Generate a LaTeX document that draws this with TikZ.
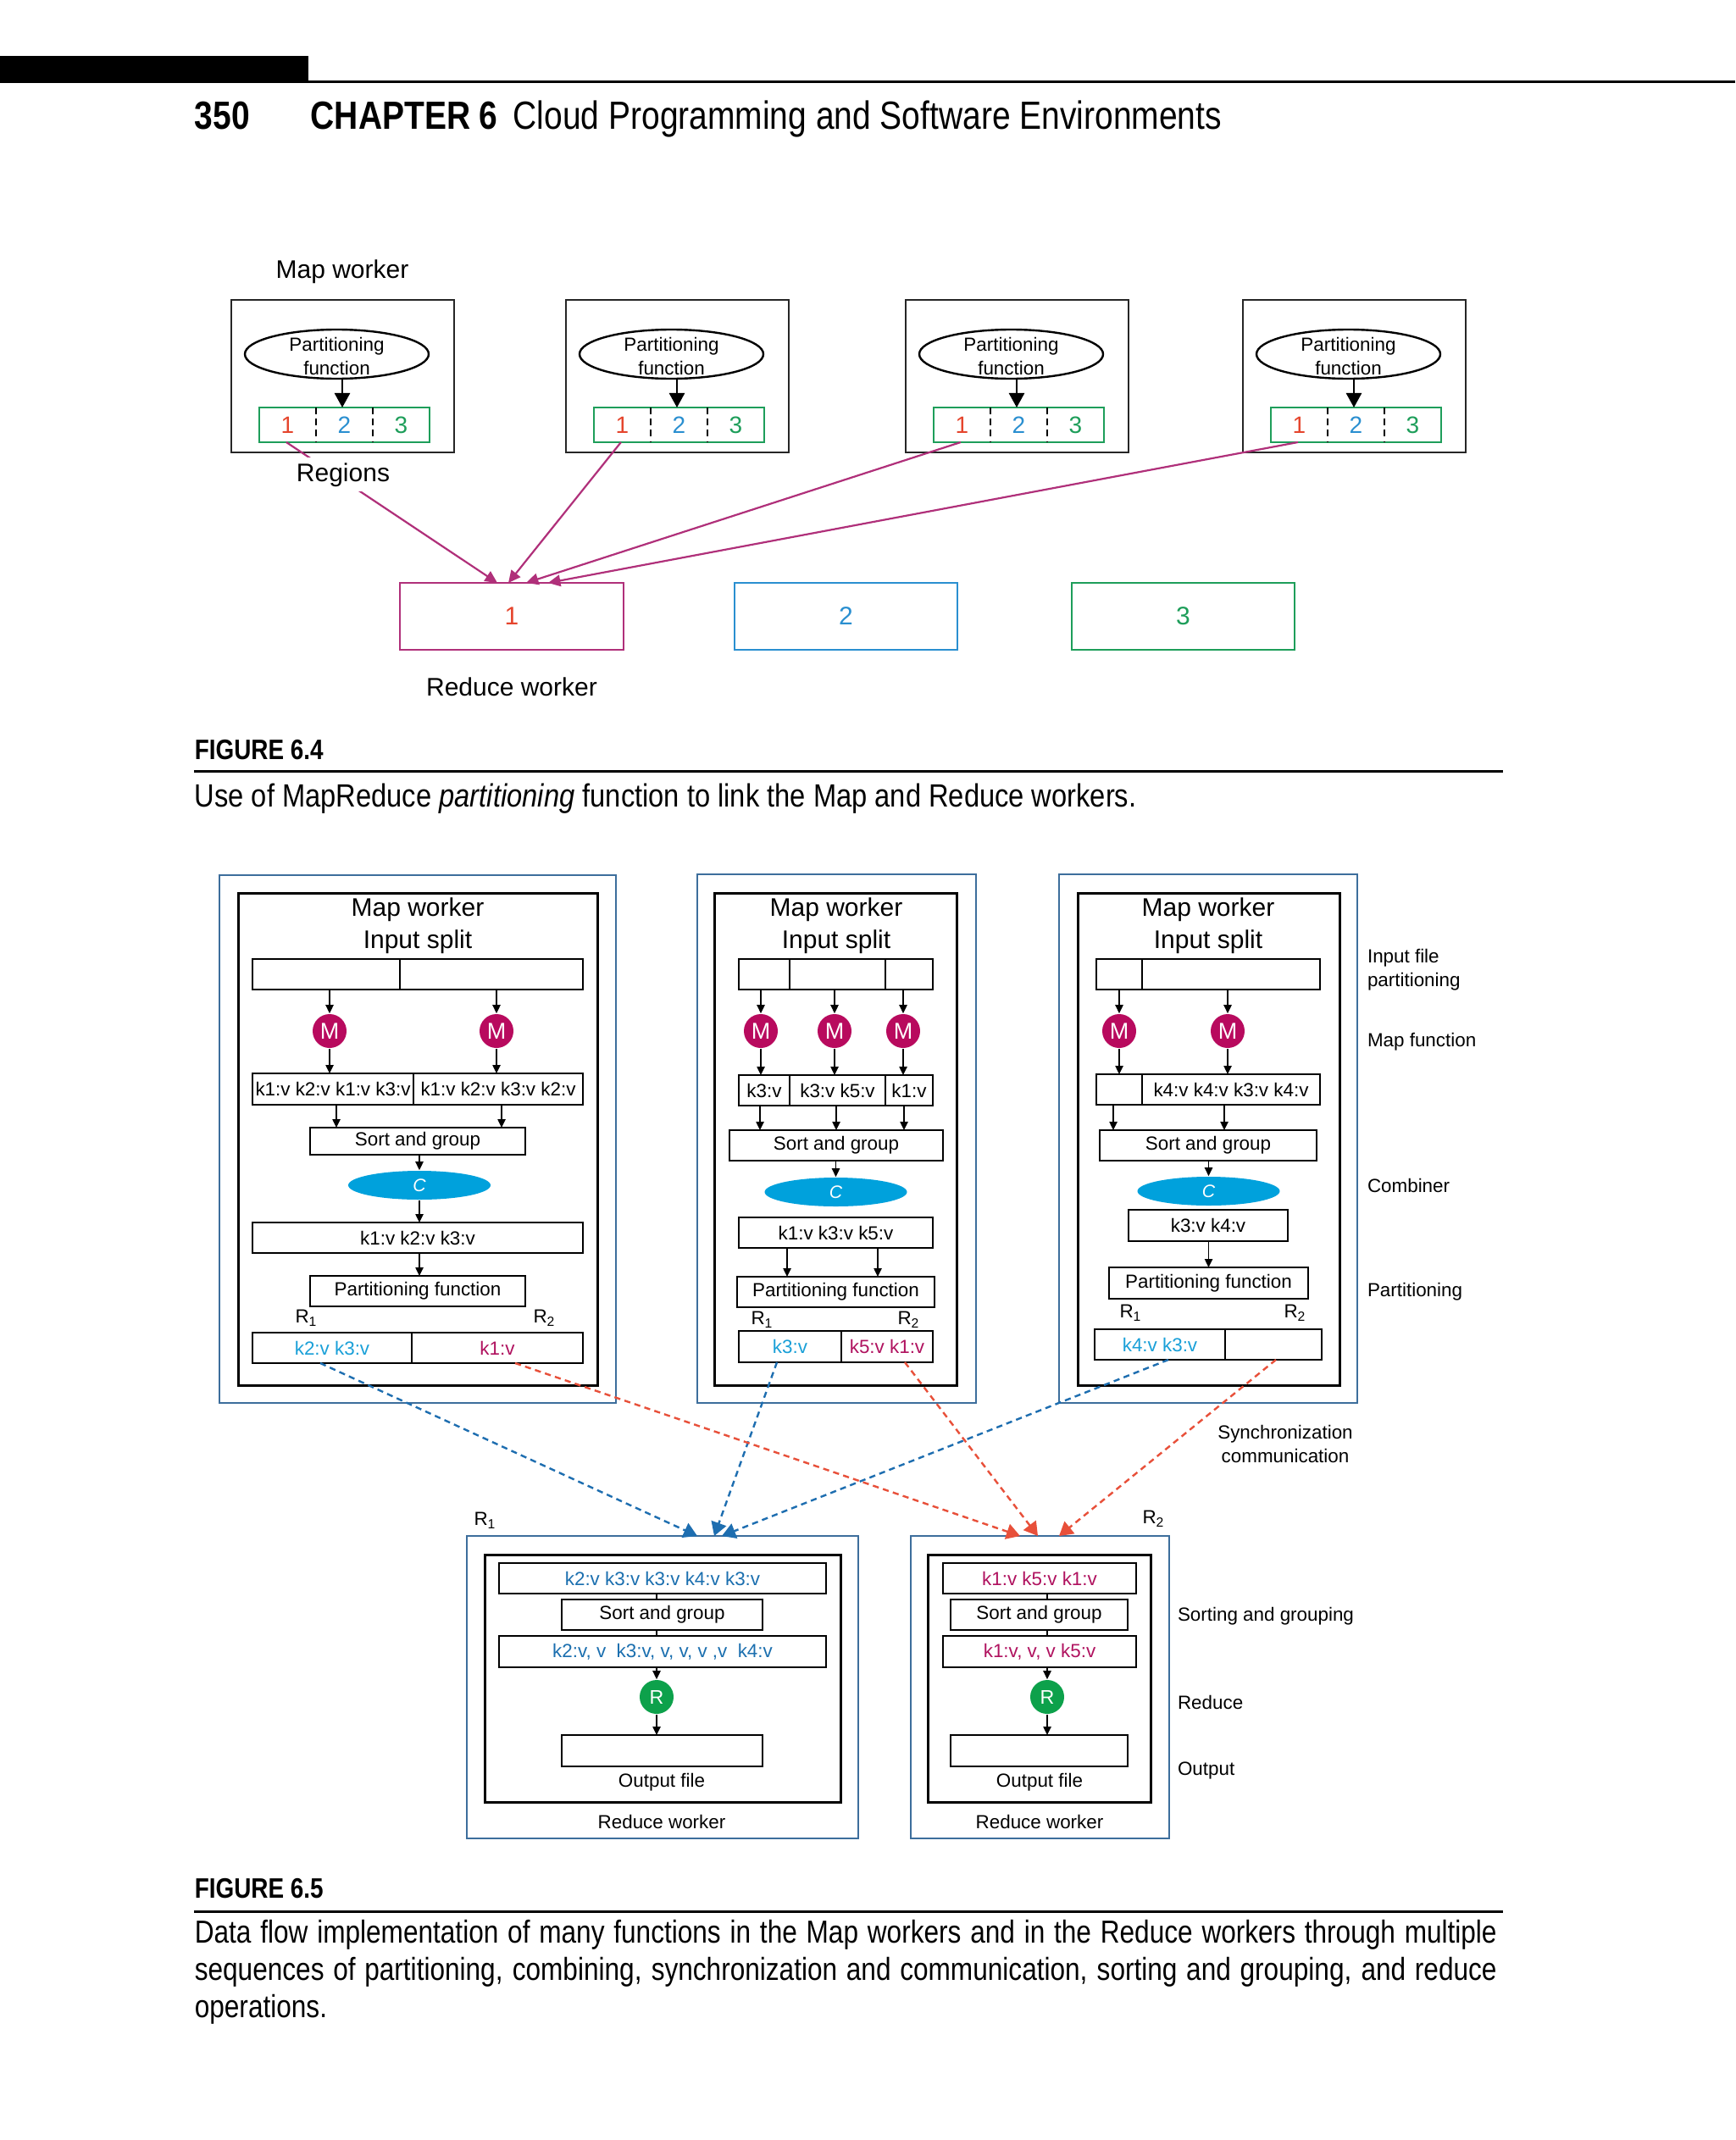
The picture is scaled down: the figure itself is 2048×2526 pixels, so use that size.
\documentclass[tikz,border=0pt]{standalone}
\usepackage{fontspec}
\setmainfont{Liberation Sans}
\newfontfamily\cond[FakeStretch=0.84]{Liberation Sans}
\newfontfamily\condw[FakeStretch=0.86]{Liberation Sans}
\usetikzlibrary{arrows.meta,shapes.geometric}
\definecolor{mag}{HTML}{B0307A}
\definecolor{red1}{HTML}{E5452D}
\definecolor{blu1}{HTML}{2A8FD0}
\definecolor{grn1}{HTML}{1E9E5A}
\definecolor{steel}{HTML}{3D6E9C}
\definecolor{mcirc}{HTML}{B80A5E}
\definecolor{ccyan}{HTML}{00A1DC}
\definecolor{rgreen}{HTML}{0DA14B}
\definecolor{cytext}{HTML}{1AA0D8}
\definecolor{mgtext}{HTML}{B0125F}
\definecolor{dkblue}{HTML}{1B6FAF}
\definecolor{dblue}{HTML}{1E6EB0}
\definecolor{dred}{HTML}{E8503A}
\newcommand\fsmall{\fontsize{5.6pt}{7pt}\selectfont}
\newcommand\fmed{\fontsize{7.5pt}{9.5pt}\selectfont}
\newcommand\capfont{\cond\fontsize{9.4pt}{11pt}\selectfont}
\newcommand\Rect[7]{\node[#6,minimum width={((#4)-(#2))*0.25pt},minimum height={((#5)-(#3))*0.25pt}] (#1) at ({((#2)+(#4))/2},{((#3)+(#5))/2}) {#7};}
\tikzset{
  mapbox/.style={draw=black!85, line width=0.7pt, inner sep=0pt, outer sep=0pt},
  pell/.style={ellipse, draw, line width=0.6pt, minimum width=54.25pt, minimum height=14.5pt, inner sep=0pt},
  dig/.style={inner sep=0pt, outer sep=0pt, font=\fontsize{7pt}{7pt}\selectfont},
  regbar/.style={draw=grn1, line width=0.6pt, inner sep=0pt, outer sep=0pt},
  ddiv/.style={line width=0.5pt, dash pattern=on 2pt off 1.3pt},
  bigarr/.style={line width=0.5pt, -{Triangle[length=4.3pt,width=4.6pt]}},
  magarr/.style={draw=mag, line width=0.55pt, -{Triangle[length=3.6pt,width=3.4pt]}},
  redbox/.style={line width=0.65pt, inner sep=0pt, outer sep=0pt, font=\fontsize{7.5pt}{7.5pt}\selectfont},
  bx/.style={draw, line width=0.6pt, inner sep=0pt, outer sep=0pt, font=\fsmall},
  cell/.style={inner sep=0pt, outer sep=0pt, font=\fsmall},
  ttl/.style={inner sep=0pt, align=center, font=\fmed},
  outerb/.style={draw=steel, line width=0.6pt, inner sep=0pt, outer sep=0pt},
  innerb/.style={draw, line width=0.75pt, inner sep=0pt, outer sep=0pt},
  arr/.style={line width=0.45pt, -{Triangle[length=2.5pt,width=2.3pt]}},
  lnk/.style={line width=0.45pt},
  mnode/.style={circle, fill=mcirc, minimum size=10pt, inner sep=0pt, text=white, font=\fontsize{6.75pt}{6.75pt}\selectfont},
  cnode/.style={ellipse, fill=ccyan, minimum width=42pt, minimum height=8.5pt, inner sep=0pt, text=white, font=\fontsize{5.3pt}{5.3pt}\selectfont\itshape},
  rnode/.style={circle, fill=rgreen, minimum size=10pt, inner sep=0pt, text=white, font=\fontsize{5.8pt}{5.8pt}\selectfont},
  bdash/.style={draw=dblue, line width=0.6pt, dash pattern=on 1.8pt off 1.3pt, -{Triangle[length=4pt,width=4.6pt]}},
  rdash/.style={draw=dred, line width=0.6pt, dash pattern=on 1.8pt off 1.3pt, -{Triangle[length=4pt,width=4.6pt]}},
}
\begin{document}
\begin{tikzpicture}[x=0.25pt,y=-0.25pt]
\fill[white] (0,0) rectangle (2048,2526);
\useasboundingbox (0,0) rectangle (2048,2526);
% ---------- page header
\fill (0,66) rectangle (364,98);
\draw[line width=0.7pt] (364,96.5) -- (2048,96.5);
\node[anchor=base west, inner sep=0pt, font=\cond\bfseries\fontsize{11.6pt}{11.6pt}\selectfont] (pg) at (229,153) {350};
\node[anchor=base west, inner sep=0pt, font=\cond\bfseries\fontsize{11.6pt}{11.6pt}\selectfont] (chap) at (366,153) {CHAPTER 6};
\node[anchor=base west, inner sep=0pt, font=\cond\fontsize{11.6pt}{11.6pt}\selectfont] (ctitle) at (605,153) {Cloud Programming and Software Environments};
% ---------- Figure 6.4
\node[anchor=base, inner sep=0pt, font=\fmed] (mwlab) at (404,328) {Map worker};
\foreach \L [count=\i] in {273,668,1069,1467} {
  \Rect{mw\i}{\L}{354}{\L+263}{534}{mapbox}{}
  \node[pell] (pe\i) at (\L+124.5,418) {};
  \node[cell,align=center] (pt\i) at (\L+124.5,420) {Partitioning\\function};
  \Rect{ca\i}{\L+33}{481}{\L+100}{522}{dig}{\color{red1}1}
  \Rect{cb\i}{\L+100}{481}{\L+167}{522}{dig}{\color{blu1}2}
  \Rect{cc\i}{\L+167}{481}{\L+234}{522}{dig}{\color{grn1}3}
  \Rect{rb\i}{\L+33}{481}{\L+234}{522}{regbar}{}
  \draw[ddiv] (ca\i.north east) -- (ca\i.south east);
  \draw[ddiv] (cb\i.north east) -- (cb\i.south east);
  \draw[bigarr] (\L+131,0 |- pe\i.south) -- (\L+131,0 |- rb\i.north);
}
\Rect{rw1}{472}{688}{736}{767}{redbox,draw=mag}{\color{red1}1}
\Rect{rw2}{867}{688}{1130}{767}{redbox,draw=blu1}{\color{blu1}2}
\Rect{rw3}{1265}{688}{1528}{767}{redbox,draw=grn1}{\color{grn1}3}
\foreach \i/\t in {1/587,2/600,3/621,4/647}
  \draw[magarr] ([xshift=-0.4pt]ca\i.south) -- (\t,0 |- rw1.north);
\node[anchor=base, fill=white, inner sep=1.5pt, font=\fmed] (regl) at (405,568) {Regions};
\node[anchor=base, inner sep=0pt, font=\fmed] (rwlab) at (604,821) {Reduce worker};
% caption 6.4
\node[anchor=base west, inner sep=0pt, font=\cond\bfseries\fontsize{8.3pt}{8.3pt}\selectfont] (f4) at (229,896) {FIGURE 6.4};
\draw[line width=0.75pt] (229,910) -- (1774,910);
\node[anchor=base west, inner sep=0pt, font=\condw\fontsize{9.5pt}{11pt}\selectfont] (c4) at (229,952) {Use of MapReduce \textit{partitioning} function to link the Map and Reduce workers.};
% ---------- Figure 6.5 : Map worker A
\Rect{oA}{259}{1033}{727}{1656}{outerb}{}
\Rect{iA}{281}{1054}{705}{1635}{innerb}{}
\node[ttl] (tA) at (493,1093) {Map worker\\Input split};
\Rect{inA1}{298}{1132}{472}{1168}{bx}{}
\Rect{inA2}{472}{1132}{688}{1168}{bx}{}
\node[mnode] (mA1) at (389,1217) {M};
\node[mnode] (mA2) at (586,1217) {M};
\Rect{kvA1}{298}{1267}{488}{1304}{bx}{k1:v k2:v k1:v k3:v}
\Rect{kvA2}{488}{1267}{688}{1304}{bx}{k1:v k2:v k3:v k2:v}
\Rect{sgA}{366}{1331}{620}{1363}{bx}{Sort and group}
\node[cnode] (cA) at (495,1399) {C};
\Rect{k3A}{298}{1443}{688}{1479}{bx}{k1:v k2:v k3:v}
\Rect{pfA}{366}{1506}{620}{1542}{bx}{Partitioning function}
\node[cell] (r1A) at (362,1556) {R\textsubscript{1}};
\node[cell] (r2A) at (643,1556) {R\textsubscript{2}};
\Rect{rA1}{298}{1573}{486}{1609}{bx,text=cytext}{k2:v k3:v}
\Rect{rA2}{486}{1573}{688}{1609}{bx,text=mgtext}{k1:v}
\draw[arr] (mA1 |- inA1.south) -- (mA1.north);
\draw[arr] (mA1.south) -- (mA1 |- kvA1.north);
\draw[arr] (mA2 |- inA2.south) -- (mA2.north);
\draw[arr] (mA2.south) -- (mA2 |- kvA2.north);
\draw[arr] (397,0 |- kvA1.south) -- (397,0 |- sgA.north);
\draw[arr] (592,0 |- kvA2.south) -- (592,0 |- sgA.north);
\draw[arr] (cA |- sgA.south) -- (cA.north);
\draw[arr] (cA.south) -- (cA |- k3A.north);
\draw[arr] (cA |- k3A.south) -- (cA |- pfA.north);
% Map worker B
\Rect{oB}{823}{1032}{1152}{1656}{outerb}{}
\Rect{iB}{843}{1054}{1129}{1635}{innerb}{}
\node[ttl] (tB) at (987,1093) {Map worker\\Input split};
\Rect{inB1}{872}{1132}{932}{1168}{bx}{}
\Rect{inB2}{932}{1132}{1045}{1168}{bx}{}
\Rect{inB3}{1045}{1132}{1101}{1168}{bx}{}
\node[mnode] (mB1) at (898,1217) {M};
\node[mnode] (mB2) at (985,1217) {M};
\node[mnode] (mB3) at (1066,1217) {M};
\Rect{kvB1}{872}{1269}{932}{1305}{bx}{k3:v}
\Rect{kvB2}{932}{1269}{1045}{1305}{bx}{k3:v k5:v}
\Rect{kvB3}{1045}{1269}{1101}{1305}{bx}{k1:v}
\Rect{sgB}{861}{1334}{1113}{1370}{bx}{Sort and group}
\node[cnode] (cB) at (986.5,1407) {C};
\Rect{k3B}{872}{1437}{1101}{1473}{bx}{k1:v k3:v k5:v}
\Rect{pfB}{870}{1507}{1103}{1543}{bx}{Partitioning function}
\node[cell] (r1B) at (900,1558) {R\textsubscript{1}};
\node[cell] (r2B) at (1073,1558) {R\textsubscript{2}};
\Rect{rB1}{872}{1571}{993}{1608}{bx,text=cytext}{k3:v}
\Rect{rB2}{993}{1571}{1101}{1608}{bx,text=mgtext}{k5:v k1:v}
\draw[arr] (mB1 |- inB1.south) -- (mB1.north);
\draw[arr] (mB1.south) -- (mB1 |- kvB1.north);
\draw[arr] (mB2 |- inB2.south) -- (mB2.north);
\draw[arr] (mB2.south) -- (mB2 |- kvB2.north);
\draw[arr] (mB3 |- inB3.south) -- (mB3.north);
\draw[arr] (mB3.south) -- (mB3 |- kvB3.north);
\draw[arr] (897,0 |- kvB1.south) -- (897,0 |- sgB.north);
\draw[arr] (987,0 |- kvB2.south) -- (987,0 |- sgB.north);
\draw[arr] (1067,0 |- kvB3.south) -- (1067,0 |- sgB.north);
\draw[arr] (cB |- sgB.south) -- (cB.north);
\draw[arr] (929,0 |- k3B.south) -- (929,0 |- pfB.north);
\draw[arr] (1036,0 |- k3B.south) -- (1036,0 |- pfB.north);
% Map worker C
\Rect{oC}{1250}{1032}{1602}{1656}{outerb}{}
\Rect{iC}{1272}{1054}{1581}{1635}{innerb}{}
\node[ttl] (tC) at (1426,1093) {Map worker\\Input split};
\Rect{inC1}{1294}{1132}{1348}{1168}{bx}{}
\Rect{inC2}{1348}{1132}{1558}{1168}{bx}{}
\node[mnode] (mC1) at (1321,1217) {M};
\node[mnode] (mC2) at (1449,1217) {M};
\Rect{kvC1}{1294}{1268}{1348}{1304}{bx}{}
\Rect{kvC2}{1348}{1268}{1558}{1304}{bx}{k4:v k4:v k3:v k4:v}
\Rect{sgC}{1298}{1334}{1554}{1370}{bx}{Sort and group}
\node[cnode] (cC) at (1426.5,1406) {C};
\Rect{k3C}{1332}{1428}{1520}{1465}{bx}{k3:v k4:v}
\Rect{pfC}{1309}{1496}{1544}{1533}{bx}{Partitioning function}
\node[cell] (r1C) at (1335,1550) {R\textsubscript{1}};
\node[cell] (r2C) at (1529,1550) {R\textsubscript{2}};
\Rect{rC1}{1292}{1569}{1446}{1605}{bx,text=cytext}{k4:v k3:v}
\Rect{rC2}{1446}{1569}{1560}{1605}{bx}{}
\draw[arr] (mC1 |- inC1.south) -- (mC1.north);
\draw[arr] (mC1.south) -- (mC1 |- kvC1.north);
\draw[arr] (mC2 |- inC2.south) -- (mC2.north);
\draw[arr] (mC2.south) -- (mC2 |- kvC2.north);
\draw[arr] (1314,0 |- kvC1.south) -- (1314,0 |- sgC.north);
\draw[arr] (1445,0 |- kvC2.south) -- (1445,0 |- sgC.north);
\draw[arr] (cC |- sgC.south) -- (cC.north);
\draw[arr] (cC |- k3C.south) -- (cC |- pfC.north);
% side labels
\node[cell, anchor=west, align=left] (lb1) at (1614,1145) {Input file\\partitioning};
\node[cell, anchor=west] (lb2) at (1614,1230) {Map function};
\node[cell, anchor=west] (lb3) at (1614,1399) {Combiner};
\node[cell, anchor=west] (lb4) at (1614,1525) {Partitioning};
\node[cell, align=center] (lb5) at (1517,1704) {Synchronization\\communication};
% Reduce worker A
\Rect{oRA}{551}{1813}{1013}{2170}{outerb}{}
\Rect{iRA}{572}{1835}{992}{2127}{innerb}{}
\Rect{aRA}{589}{1845}{975}{1881}{bx,text=dkblue}{k2:v k3:v k3:v k4:v k3:v}
\Rect{sRA}{663}{1888}{900}{1924}{bx}{Sort and group}
\Rect{bRA}{589}{1931}{975}{1968}{bx,text=dkblue}{k2:v, v\ \ k3:v, v, v, v ,v\ \ k4:v}
\node[rnode] (rRA) at (775,2003) {R};
\Rect{fRA}{663}{2048}{900}{2085}{bx}{}
\node[cell] (ofA) at (781,2104) {Output file};
\node[cell] (rwA) at (781,2150) {Reduce worker};
\node[cell] (R1l) at (573,1795) {R\textsubscript{1}};
\draw[lnk] (775,0 |- aRA.south) -- (775,0 |- sRA.north);
\draw[lnk] (775,0 |- sRA.south) -- (775,0 |- bRA.north);
\draw[arr] (rRA |- bRA.south) -- (rRA.north);
\draw[arr] (rRA.south) -- (rRA |- fRA.north);
% Reduce worker B
\Rect{oRB}{1075}{1813}{1380}{2170}{outerb}{}
\Rect{iRB}{1095}{1835}{1358}{2127}{innerb}{}
\Rect{aRB}{1113}{1845}{1341}{1881}{bx,text=mgtext}{k1:v k5:v k1:v}
\Rect{sRB}{1122}{1888}{1331}{1924}{bx}{Sort and group}
\Rect{bRB}{1113}{1931}{1341}{1968}{bx,text=mgtext}{k1:v, v, v k5:v}
\node[rnode] (rRB) at (1236,2003) {R};
\Rect{fRB}{1122}{2048}{1331}{2085}{bx}{}
\node[cell] (ofB) at (1227,2104) {Output file};
\node[cell] (rwB) at (1227,2150) {Reduce worker};
\node[cell] (R2l) at (1362,1793) {R\textsubscript{2}};
\draw[lnk] (1236,0 |- aRB.south) -- (1236,0 |- sRB.north);
\draw[lnk] (1236,0 |- sRB.south) -- (1236,0 |- bRB.north);
\draw[arr] (rRB |- bRB.south) -- (rRB.north);
\draw[arr] (rRB.south) -- (rRB |- fRB.north);
% side labels reduce
\node[cell, anchor=west] (lb6) at (1390,1908) {Sorting and grouping};
\node[cell, anchor=west] (lb7) at (1390,2009) {Reduce};
\node[cell, anchor=west] (lb8) at (1390,2090) {Output};
% synchronization / communication arrows
\draw[bdash] (378,0 |- rA1.south) -- (823,0 |- oRA.north);
\draw[bdash] (917,0 |- rB1.south) -- (843,0 |- oRA.north);
\draw[bdash] (1379,0 |- rC1.south) -- (852,0 |- oRA.north);
\draw[rdash] (608,0 |- rA2.south) -- (1204,0 |- oRB.north);
\draw[rdash] (1068,0 |- rB2.south) -- (1225,0 |- oRB.north);
\draw[rdash] (1506,0 |- rC2.south) -- (1250,0 |- oRB.north);
% caption 6.5
\node[anchor=base west, inner sep=0pt, font=\cond\bfseries\fontsize{8.3pt}{8.3pt}\selectfont] (f5) at (229,2240) {FIGURE 6.5};
\draw[line width=0.75pt] (229,2256) -- (1774,2256);
\node[anchor=base west, inner sep=0pt, font=\capfont] (c5a) at (229,2293) {\makebox[384.25pt][s]{Data flow implementation of many functions in the Map workers and in the Reduce workers through multiple}};
\node[anchor=base west, inner sep=0pt, font=\capfont] (c5b) at (229,2337) {\makebox[384.25pt][s]{sequences of partitioning, combining, synchronization and communication, sorting and grouping, and reduce}};
\node[anchor=base west, inner sep=0pt, font=\capfont] (c5c) at (229,2381) {operations.};
\end{tikzpicture}
\end{document}
